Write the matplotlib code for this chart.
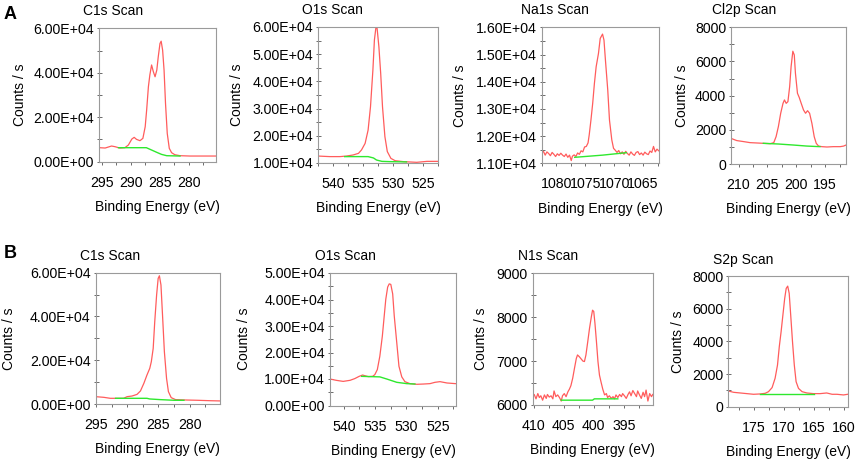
import matplotlib
matplotlib.use("Agg")
import matplotlib.pyplot as plt
from matplotlib.ticker import MultipleLocator, FuncFormatter

plt.rcParams['font.family'] = ['Liberation Sans', 'DejaVu Sans']

# ---------------- data (binding energy in eV, intensity in counts/s) ----------------
panel_titles = ["C1s Scan", "O1s Scan", "Na1s Scan", "Cl2p Scan",
                "C1s Scan", "O1s Scan", "N1s Scan", "S2p Scan"]
row_labels = ["A", "B"]
x_label = "Binding Energy (eV)"
y_label = "Counts / s"

# A - C1s
a_c1s_be = [295.4, 294.4, 293.3, 292.7, 291.9, 291.0, 290.4, 289.8, 289.4, 289.0, 288.4, 287.9,
            287.5, 287.25, 286.95, 286.7, 286.4, 286.1, 285.8, 285.5, 285.25, 284.95, 284.75,
            284.5, 284.25, 284.0, 283.7, 283.35, 282.95, 282.4, 281.5, 279.8, 277.5, 275.4]
a_c1s_cps = [6300, 6150, 7050, 6750, 6150, 6300, 7500, 10200, 10950, 10050, 9450, 10500,
             15750, 23250, 33700, 39000, 43500, 40500, 38200, 41200, 47200, 53200, 54200,
             50200, 41200, 26200, 12700, 6000, 4050, 3150, 2700, 2550, 2550, 2550]
a_c1s_bg_be = [292.1, 287.3, 286.4, 285.5, 284.7, 283.8, 281.5]
a_c1s_bg_cps = [6300, 6300, 5250, 4200, 3300, 2700, 2550]

# A - O1s
a_o1s_be = [542.5, 540.6, 538.9, 537.8, 536.7, 535.8, 535.3, 534.7, 534.2, 533.8, 533.4, 533.15,
            532.9, 532.7, 532.4, 532.1, 531.8, 531.4, 531.0, 530.4, 529.7, 528.3, 526.1, 524.4, 522.5]
a_o1s_cps = [12550, 12350, 12350, 12550, 12950, 13550, 14800, 17200, 22100, 30700, 44200, 55200,
             59800, 59500, 52700, 42900, 30700, 19700, 14200, 11700, 10850, 10500, 10250, 10600, 10600]
a_o1s_bg_be = [538.1, 534.2, 533.3, 532.8, 531.9, 530.6, 527.8]
a_o1s_bg_cps = [12350, 12350, 11850, 11100, 10600, 10500, 10400]

# A - Na1s
a_na1s_be = [1082.5, 1082.2, 1081.9, 1081.6, 1081.3, 1081.0, 1080.7, 1080.4, 1080.1, 1079.8,
             1079.5, 1079.2, 1078.9, 1078.6, 1078.3, 1078.0, 1077.7, 1077.4, 1077.2, 1076.9,
             1076.6, 1076.3, 1076.0, 1075.7, 1075.4, 1075.1, 1074.8, 1074.5, 1074.3, 1074.0,
             1073.7, 1073.4, 1073.1, 1072.7, 1072.4, 1072.0, 1071.75, 1071.5, 1071.1, 1070.8,
             1070.4, 1070.1, 1069.8, 1069.5, 1069.2, 1068.9, 1068.6, 1068.3, 1068.0, 1067.7,
             1067.4, 1067.1, 1066.8, 1066.5, 1066.2, 1065.9, 1065.6, 1065.3, 1065.0, 1064.7,
             1064.4, 1064.1, 1063.8, 1063.5, 1063.2, 1062.9, 1062.6, 1062.3]
a_na1s_cps = [11380, 11440, 11300, 11420, 11360, 11280, 11400, 11330, 11250, 11350,
              11290, 11370, 11300, 11250, 11340, 11220, 11300, 11100, 11260, 11310,
              11250, 11380, 11330, 11460, 11420, 11600, 11620, 11750, 12040, 12590,
              13200, 13940, 14550, 15040, 15590, 15750, 15530, 14800, 13700, 12590,
              11860, 11550, 11480, 11400, 11470, 11350, 11420, 11330, 11440, 11360,
              11300, 11420, 11340, 11290, 11400, 11430, 11320, 11380, 11300, 11410,
              11350, 11320, 11450, 11400, 11620, 11420, 11520, 11460]
a_na1s_bg_be = [1076.8, 1072.0, 1067.9]
a_na1s_bg_cps = [11220, 11300, 11390]

# A - Cl2p
a_cl2p_be = [211.3, 210.3, 209.1, 208.0, 206.8, 205.7, 204.5, 203.9, 203.5, 203.1, 202.7, 202.3,
             202.05, 201.75, 201.45, 201.15, 200.9, 200.6, 200.35, 200.15, 199.8, 199.5, 199.15,
             198.75, 198.4, 198.05, 197.7, 197.3, 196.9, 196.55, 196.15, 195.6, 194.7, 193.6,
             192.4, 191.8, 191.4]
a_cl2p_cps = [1500, 1370, 1310, 1250, 1230, 1210, 1190, 1250, 1600, 2190, 2970, 3550,
              3750, 3550, 3650, 4530, 5700, 6600, 6380, 5310, 4140, 3900, 3550,
              3160, 2970, 3120, 2970, 2380, 1600, 1210, 1050, 1015, 995, 1015,
              1015, 1050, 1110]
a_cl2p_bg_be = [205.7, 203.1, 200.5, 198.2, 195.9]
a_cl2p_bg_cps = [1210, 1170, 1110, 1050, 1015]

# B - C1s
b_c1s_be = [295.1, 293.8, 292.75, 291.65, 290.6, 290.05, 289.25, 288.45, 287.9, 287.35, 286.85,
            286.4, 286.15, 285.85, 285.6, 285.3, 285.05, 284.85, 284.6, 284.35, 284.05, 283.7,
            283.4, 282.95, 282.25, 280.9, 278.75, 276.6, 275.1]
b_c1s_cps = [3350, 3050, 2600, 2600, 2600, 3350, 3650, 4400, 5950, 9450, 13250,
             16300, 19350, 25400, 37600, 49800, 57400, 58600, 54400, 40700, 23900, 11700,
             5650, 2900, 2000, 1850, 1700, 1500, 1400]
b_c1s_bg_be = [291.9, 286.85, 286.4, 284.7, 282.5, 280.9]
b_c1s_bg_cps = [2600, 2600, 2300, 2000, 1700, 1700]

# B - O1s
b_o1s_be = [542.2, 541.2, 540.1, 539.0, 538.25, 537.55, 537.0, 536.65, 536.1, 535.4, 535.05,
            534.65, 534.25, 533.85, 533.55, 533.3, 533.0, 532.75, 532.5, 532.2, 531.95, 531.55,
            531.2, 530.75, 530.25, 529.45, 528.35, 527.3, 526.25, 525.45, 524.65, 523.55, 522.2]
b_o1s_cps = [10000, 9500, 9100, 9500, 10150, 11000, 11500, 11250, 10900, 11000, 11650,
             13550, 18600, 26200, 33800, 40100, 44700, 45900, 45700, 42100, 33800, 23700,
             14800, 10800, 9000, 8250, 8000, 8100, 8250, 8750, 9000, 8500, 8250]
b_o1s_bg_be = [537.15, 534.25, 533.15, 531.55, 529.95, 528.65]
b_o1s_bg_cps = [11000, 10800, 10000, 8750, 8250, 8100]

# B - N1s
b_n1s_be = [410.15, 409.9, 409.6, 409.3, 409.05, 408.8, 408.5, 408.2, 407.9, 407.7,
            407.4, 407.1, 406.8, 406.6, 406.3, 406.0, 405.7, 405.4, 405.2, 404.9,
            404.6, 404.3, 404.05, 403.8, 403.5, 403.2, 402.9, 402.7, 402.4, 402.1,
            401.8, 401.55, 401.3, 401.0, 400.7, 400.4, 400.2, 400.0, 399.8, 399.55,
            399.3, 399.05, 398.8, 398.5, 398.2, 397.9, 397.7, 397.4, 397.1, 396.8,
            396.55, 396.3, 396.0, 395.7, 395.4, 395.2, 394.9, 394.6, 394.3, 394.05,
            393.8, 393.5, 393.2, 392.9, 392.7, 392.4, 392.1, 391.8, 391.55, 391.3,
            391.0, 390.7, 390.4, 390.2]
b_n1s_cps = [6190, 6240, 6140, 6260, 6170, 6210, 6110, 6230, 6150, 6240,
             6180, 6210, 6140, 6320, 6190, 6230, 6170, 6090, 6210, 6260,
             6190, 6300, 6360, 6440, 6610, 6840, 7060, 7140, 7100, 7050,
             7000, 6990, 7140, 7440, 7750, 8010, 8160, 8130, 7860, 7440,
             6990, 6680, 6530, 6360, 6230, 6260, 6170, 6210, 6150, 6190,
             6140, 6230, 6170, 6240, 6190, 6260, 6210, 6150, 6240, 6300,
             6210, 6330, 6260, 6190, 6320, 6230, 6150, 6290, 6190, 6340,
             6090, 6260, 6190, 6240]
b_n1s_bg_be = [405.4, 400.2, 399.9, 396.0]
b_n1s_bg_cps = [6110, 6110, 6140, 6140]

# B - S2p
b_s2p_be = [179.2, 178.3, 177.2, 176.1, 175.0, 173.9, 173.05, 172.5, 171.9, 171.4, 171.0,
            170.7, 170.4, 170.1, 169.8, 169.55, 169.3, 169.05, 168.8, 168.5, 168.2, 167.9,
            167.5, 166.9, 166.1, 165.0, 163.9, 162.8, 161.9, 161.1, 160.0, 159.3]
b_s2p_cps = [960, 880, 840, 800, 760, 780, 820, 920, 1170, 1740, 2550,
             3680, 4590, 5610, 6630, 7240, 7380, 6940, 5610, 3980, 2550, 1530,
             1120, 920, 840, 800, 800, 840, 760, 760, 720, 760]
b_s2p_bg_be = [173.9, 165.0]
b_s2p_bg_cps = [760, 760]

spectra = [
    (a_c1s_be, a_c1s_cps, a_c1s_bg_be, a_c1s_bg_cps),
    (a_o1s_be, a_o1s_cps, a_o1s_bg_be, a_o1s_bg_cps),
    (a_na1s_be, a_na1s_cps, a_na1s_bg_be, a_na1s_bg_cps),
    (a_cl2p_be, a_cl2p_cps, a_cl2p_bg_be, a_cl2p_bg_cps),
    (b_c1s_be, b_c1s_cps, b_c1s_bg_be, b_c1s_bg_cps),
    (b_o1s_be, b_o1s_cps, b_o1s_bg_be, b_o1s_bg_cps),
    (b_n1s_be, b_n1s_cps, b_n1s_bg_be, b_n1s_bg_cps),
    (b_s2p_be, b_s2p_cps, b_s2p_bg_be, b_s2p_bg_cps),
]

# ---------------- layout (pixels) and axis settings ----------------
W, H = 858, 463
# left, right, top, bottom, title centre x, title baseline, ylabel centre x
boxes = [
    (99.3, 216.0, 28.3, 161.7, 113.0, 15.0, 19.5),
    (318.3, 438.3, 27.0, 163.0, 332.5, 14.5, 236.5),
    (541.7, 659.3, 27.3, 163.3, 554.7, 14.5, 459.5),
    (731.0, 846.0, 27.3, 164.0, 744.0, 14.5, 681.5),
    (95.7, 220.0, 272.7, 404.0, 110.0, 260.0, 9.5),
    (330.0, 456.0, 273.0, 405.5, 345.0, 260.5, 244.0),
    (532.7, 652.7, 273.3, 405.0, 548.0, 260.5, 481.5),
    (728.3, 847.7, 276.0, 406.7, 743.3, 263.5, 678.5),
]
xlims = [(295.41, 275.3), (542.5, 522.5), (1082.5, 1062.2), (211.3, 191.4),
         (295.1, 275.1), (542.2, 522.1), (410.15, 390.2), (179.2, 159.3)]
ylims = [(0, 60000), (10000, 60000), (11000, 16000), (0, 8000),
         (0, 60000), (0, 50000), (6000, 9000), (0, 8000)]
ymajor = [20000, 10000, 1000, 2000, 20000, 10000, 1000, 2000]
yminor = [10000, 5000, 500, 1000, 10000, 5000, 500, 1000]
ysci = [True, True, True, False, True, True, False, False]

RED = '#ff5c5c'
GREEN = '#2ee82e'
SPINE = '#9a9a9a'
TICK = '#6a6a6a'

fig = plt.figure(figsize=(W / 100, H / 100), dpi=100)

sci_fmt = FuncFormatter(lambda v, p: f'{v:.2E}')
int_fmt = FuncFormatter(lambda v, p: f'{v:.0f}')

for i, (be, cps, bg_be, bg_cps) in enumerate(spectra):
    l, r, t, b, tcx, tbase, ylx = boxes[i]
    ax = fig.add_axes([l / W, 1 - b / H, (r - l) / W, (b - t) / H])
    ax.plot(be, cps, color=RED, lw=0.9, zorder=2)
    ax.plot(bg_be, bg_cps, color=GREEN, lw=1.0, zorder=3)
    ax.set_xlim(*xlims[i])
    ax.set_ylim(*ylims[i])

    ax.xaxis.set_major_locator(MultipleLocator(5))
    ax.xaxis.set_minor_locator(MultipleLocator(2.5))
    ax.xaxis.set_major_formatter(int_fmt)
    ax.yaxis.set_major_locator(MultipleLocator(ymajor[i]))
    ax.yaxis.set_minor_locator(MultipleLocator(yminor[i]))
    ax.yaxis.set_major_formatter(sci_fmt if ysci[i] else int_fmt)

    ax.tick_params(axis='x', which='both', direction='out', length=2.5, width=0.7,
                   color=TICK, pad=7.6, labelsize=10.2, labelcolor='black')
    ax.tick_params(axis='y', which='both', direction='inout', length=3.6, width=0.7,
                   color=TICK, pad=1.8, labelsize=10.2, labelcolor='black')
    for sp in ax.spines.values():
        sp.set_color(SPINE)
        sp.set_linewidth(0.8)

    ax.set_title(panel_titles[i], x=(tcx - l) / (r - l), y=(b - tbase) / (b - t),
                 pad=0, fontsize=10, ha='center', va='baseline')
    ax.set_xlabel(x_label, fontsize=10, va='top')
    ax.xaxis.set_label_coords((l + r) / 2 / W, 1 - (b + 38.3) / H, transform=fig.transFigure)
    ax.set_ylabel(y_label, fontsize=10, va='center')
    ax.yaxis.set_label_coords(ylx / W, 1 - (t + b) / 2 / H, transform=fig.transFigure)

fig.text(3.3 / W, 1 - 19.3 / H, row_labels[0], fontsize=13, fontweight='bold',
         ha='left', va='baseline')
fig.text(3.3 / W, 1 - 258.3 / H, row_labels[1], fontsize=13, fontweight='bold',
         ha='left', va='baseline')

fig.savefig('out.png', dpi=100)
